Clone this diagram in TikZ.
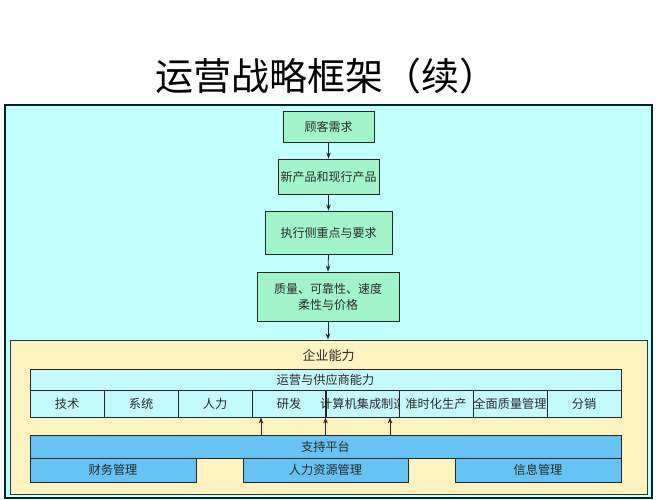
\documentclass[tikz,border=0pt]{standalone}
\usepackage{fontspec}
\newfontfamily\cjk{Noto Sans CJK SC}
\usetikzlibrary{arrows.meta}
\definecolor{bgcyan}{HTML}{C2FFFF}
\definecolor{mint}{HTML}{A2F5C9}
\definecolor{paleyel}{HTML}{FFF3C2}
\definecolor{lcyan}{HTML}{C4F9FF}
\definecolor{skyb}{HTML}{66C3F3}
\definecolor{txt}{HTML}{2A2A2A}
\begin{document}
\begin{tikzpicture}[x=1pt,y=-1pt,
  every node/.style={font=\cjk, text=txt, inner sep=0pt},
  gbox/.style={draw=black!85, line width=0.9pt, fill=mint, align=center, font=\cjk\fontsize{12}{16}\selectfont},
  cbox/.style={draw=black!85, line width=0.9pt, fill=lcyan, font=\cjk\fontsize{12.2}{14}\selectfont},
  bbox/.style={draw=black!85, line width=0.9pt, fill=skyb, font=\cjk\fontsize{12.2}{14}\selectfont},
  arr/.style={-{Stealth[length=6pt,width=4.5pt]}, line width=0.8pt, draw=black!85}]
\useasboundingbox (0,0) rectangle (667,500);
\fill[white] (0,0) rectangle (667,500);
% title
\node[font=\cjk\fontsize{38}{40}\selectfont, text=black] (title) at (326,76) {运营战略框架（续）};
% outer panel
\node[draw=black!70!teal, line width=1.2pt, fill=bgcyan, minimum width=647pt, minimum height=393pt] (outer) at (328.5,301.5) {};
% flow boxes
\node[gbox, minimum width=91pt, minimum height=31pt] (c1) at (328.5,126.5) {顾客需求};
\node[gbox, minimum width=101pt, minimum height=35pt] (c2) at (328.5,176.5) {新产品和现行产品};
\node[gbox, minimum width=127pt, minimum height=43pt] (c3) at (328.5,232.5) {执行侧重点与要求};
\node[gbox, minimum width=142pt, minimum height=49pt] (c4) at (328,296.5) {质量、可靠性、速度\\柔性与价格};
% enterprise capability panel
\node[draw=black!80, line width=1pt, fill=paleyel, minimum width=637pt, minimum height=154pt] (ent) at (328.5,417) {};
\node[font=\cjk\fontsize{13}{14}\selectfont] (entl) at (328.5,356) {企业能力};
\draw[arr] (c1.south) -- (c2.north);
\draw[arr] (c2.south) -- (c3.north);
\draw[arr] (c3.south) -- (c4.north);
\draw[arr] (c4.south) -- (c4.south |- ent.north);
% operations bar
\node[cbox, minimum width=591pt, minimum height=21pt] (ops) at (325.5,379.5) {运营与供应商能力};
\node[cbox, minimum width=74pt, minimum height=27pt] (k1) at (67,403.5) {技术};
\node[cbox, minimum width=74pt, minimum height=27pt] (k2) at (141,403.5) {系统};
\node[cbox, minimum width=74pt, minimum height=27pt] (k3) at (215,403.5) {人力};
\node[cbox, minimum width=74pt, minimum height=27pt] (k4) at (289,403.5) {研发};
\node[cbox, minimum width=73pt, minimum height=27pt] (k5) at (362.5,403.5) {};
\node[cbox, minimum width=74pt, minimum height=27pt] (k6) at (436,403.5) {准时化生产};
\node[cbox, minimum width=74pt, minimum height=27pt] (k7) at (510,403.5) {全面质量管理};
\node[cbox, minimum width=74pt, minimum height=27pt] (k8) at (584,403.5) {分销};
\begin{scope}
\clip (310,417) rectangle (399,390);
\node[font=\cjk\fontsize{12.2}{14}\selectfont, anchor=west] (k5t) at (320,403.5) {计算机集成制造};
\end{scope}
\draw[black!85, line width=0.9pt] (k5.north west) -- (k5.south west) (k5.north east) -- (k5.south east);
% support platform
\node[bbox, minimum width=591pt, minimum height=23pt] (sp) at (325.5,446.5) {支持平台};
\node[bbox, minimum width=166pt, minimum height=24pt] (f1) at (113,470) {财务管理};
\node[bbox, minimum width=165pt, minimum height=24pt] (f2) at (325.5,470) {人力资源管理};
\node[bbox, minimum width=166pt, minimum height=24pt] (f3) at (538,470) {信息管理};
% arrows support -> cells
\coordinate (a1) at (261,0);
\coordinate (a3) at (390,0);
\draw[arr] (sp.north -| a1) -- (k4.south -| a1);
\draw[arr] (sp.north -| k5.west) -- (k5.south west);
\draw[arr] (sp.north -| a3) -- (k5.south -| a3);
\end{tikzpicture}
\end{document}
